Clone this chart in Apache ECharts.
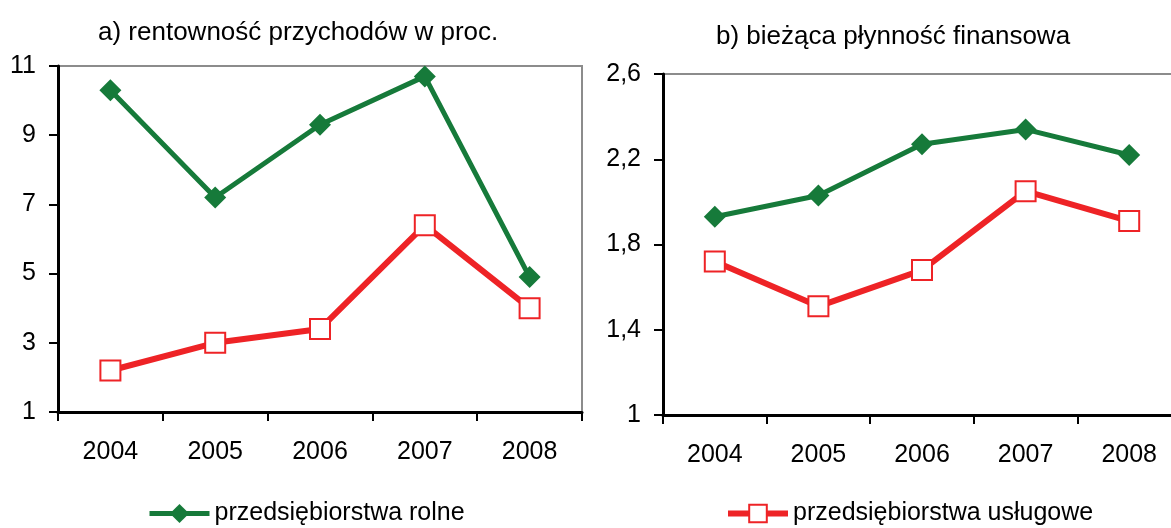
<!DOCTYPE html>
<html>
<head>
<meta charset="utf-8">
<script src="https://cdn.jsdelivr.net/npm/echarts@6/dist/echarts.min.js"></script>
<style>
  html, body { margin: 0; padding: 0; background: #fff; }
  #chart { width: 1171px; height: 528px; }
</style>
</head>
<body>
<div id="chart"></div>
<script>
// lata
const years = ['2004', '2005', '2006', '2007', '2008']
// a) rentowność przychodów w proc.
const rentRolne = [10.3, 7.2, 9.3, 10.7, 4.9]
const rentUslugowe = [2.2, 3.0, 3.4, 6.4, 4.0]
const rentTicks = [1, 3, 5, 7, 9, 11]
// b) bieżąca płynność finansowa
const plynRolne = [1.93, 2.03, 2.27, 2.34, 2.22]
const plynUslugowe = [1.72, 1.51, 1.68, 2.05, 1.91]
const plynTicks = [1, 1.4, 1.8, 2.2, 2.6]

const green = '#167a3a'
const red = '#ee2326'
const font = 'Liberation Sans, Arial, sans-serif'

const myChart = echarts.init(document.getElementById('chart'))

function yAxis(gridIndex, ticks, fmt) {
  return {
    type: 'value',
    gridIndex: gridIndex,
    min: ticks[0],
    max: ticks[ticks.length - 1],
    interval: ticks[1] - ticks[0],
    axisLine: { show: true, lineStyle: { color: '#000', width: 3 } },
    axisTick: { show: true, length: 9, lineStyle: { color: '#000', width: 2 } },
    axisLabel: { color: '#000', fontSize: 25, fontFamily: font, margin: 22, formatter: fmt },
    splitLine: { show: false }
  }
}

function xAxis(gridIndex) {
  return {
    type: 'category',
    gridIndex: gridIndex,
    data: years,
    boundaryGap: true,
    axisLine: { show: true, lineStyle: { color: '#000', width: 3 } },
    axisTick: { show: true, length: 9, lineStyle: { color: '#000', width: 2 } },
    axisLabel: { color: '#000', fontSize: 25, fontFamily: font, margin: 28 }
  }
}

const rolneStyle = {
  type: 'line',
  symbol: 'diamond',
  symbolSize: 22,
  lineStyle: { color: green, width: 5 },
  itemStyle: { color: green },
  animation: false
}
const uslugoweStyle = {
  type: 'line',
  symbol: 'rect',
  symbolSize: 20,
  lineStyle: { color: red, width: 6 },
  itemStyle: { color: '#fff', borderColor: red, borderWidth: 2 },
  animation: false
}

const option = {
  animation: false,
  title: [
    {
      text: 'a) rentowność przychodów w proc.',
      left: 93, top: 15,
      textStyle: { fontSize: 26, fontWeight: 'normal', fontFamily: font, color: '#000' }
    },
    {
      text: 'b) bieżąca płynność finansowa',
      left: 711, top: 19,
      textStyle: { fontSize: 26, fontWeight: 'normal', fontFamily: font, color: '#000' }
    }
  ],
  legend: [
    {
      data: ['przedsiębiorstwa rolne'],
      left: 147, top: 501, padding: 0,
      itemWidth: 60, itemHeight: 24,
      lineStyle: { width: 5 },
      textStyle: { fontSize: 25, fontFamily: font, color: '#000' }
    },
    {
      data: ['przedsiębiorstwa usługowe'],
      left: 725, top: 501, padding: 0,
      itemWidth: 60, itemHeight: 22,
      lineStyle: { width: 6 },
      textStyle: { fontSize: 25, fontFamily: font, color: '#000' }
    }
  ],
  grid: [
    { left: 58, top: 66, width: 524, height: 346, show: true, borderColor: '#8c8c8c', borderWidth: 2, outerBoundsMode: 'none' },
    { left: 663, top: 74, width: 518, height: 341, show: true, borderColor: '#8c8c8c', borderWidth: 2, outerBoundsMode: 'none' }
  ],
  xAxis: [xAxis(0), xAxis(1)],
  yAxis: [
    yAxis(0, rentTicks, v => String(v)),
    yAxis(1, plynTicks, v => (Math.round(v * 10) / 10).toString().replace('.', ','))
  ],
  series: [
    Object.assign({ name: 'przedsiębiorstwa rolne', xAxisIndex: 0, yAxisIndex: 0, data: rentRolne }, rolneStyle),
    Object.assign({ name: 'przedsiębiorstwa usługowe', xAxisIndex: 0, yAxisIndex: 0, data: rentUslugowe }, uslugoweStyle),
    Object.assign({ name: 'przedsiębiorstwa rolne', xAxisIndex: 1, yAxisIndex: 1, data: plynRolne }, rolneStyle),
    Object.assign({ name: 'przedsiębiorstwa usługowe', xAxisIndex: 1, yAxisIndex: 1, data: plynUslugowe }, uslugoweStyle)
  ]
}

myChart.setOption(option)
</script>
</body>
</html>
